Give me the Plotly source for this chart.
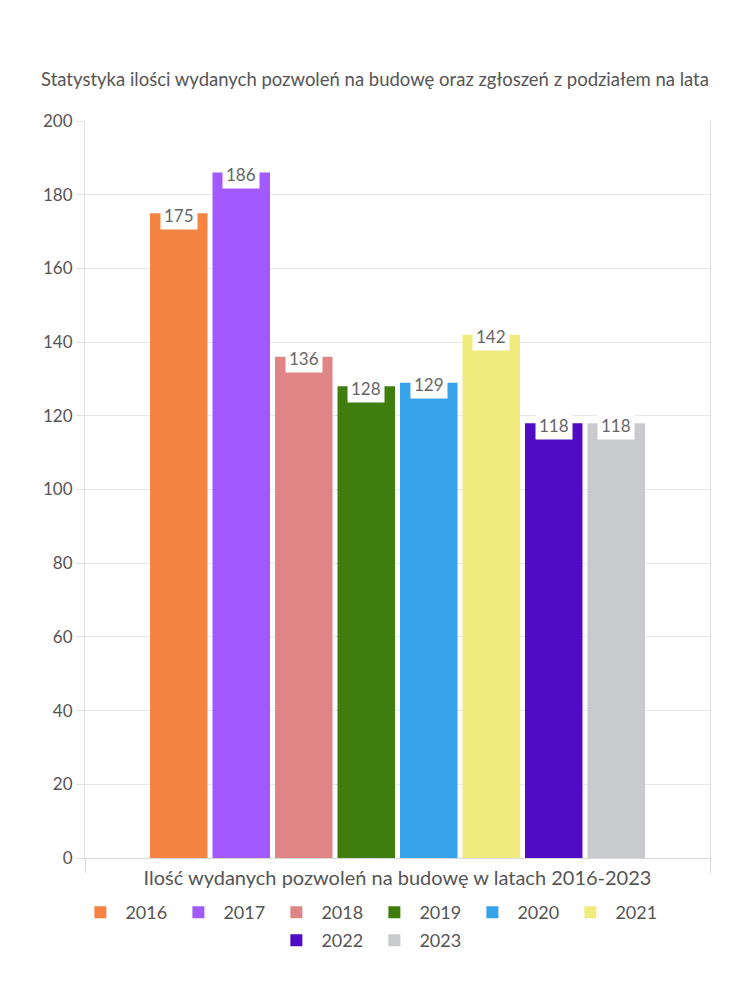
import plotly.graph_objects as go

years = ["2016", "2017", "2018", "2019", "2020", "2021", "2022", "2023"]
values = [175, 186, 136, 128, 129, 142, 118, 118]
colors = ["#F58442", "#A259FF", "#E08585", "#3F7D0E", "#38A3EB", "#F0EB7D", "#500BC4", "#C9CACE"]
legend_row = ["legend", "legend", "legend", "legend", "legend", "legend", "legend2", "legend2"]
category = ["Ilość wydanych pozwoleń na budowę w latach 2016-2023"]
yticks = [0, 20, 40, 60, 80, 100, 120, 140, 160, 180, 200]

FONT = "Lato, Open Sans, sans-serif"
GREY = "#555555"

fig = go.Figure()
for yr, v, c, lg in zip(years, values, colors, legend_row):
    fig.add_trace(go.Bar(name=yr, x=category, y=[v], marker=dict(color=c, line=dict(width=0)),
                         hoverinfo="name+y", legend=lg))

bargap = 0.2
n = len(years)
slot = (1 - bargap) / n
for i, v in enumerate(values):
    fig.add_annotation(x=-0.5 + bargap / 2 + slot * (i + 0.5), y=v, xref="x", yref="y",
                       text=str(v), showarrow=False, yanchor="middle", yshift=-2,
                       bgcolor="white", borderpad=3,
                       font=dict(family=FONT, size=17, color="#666666"))

legend_common = dict(orientation="h", x=0.455, xanchor="center", yanchor="top",
                     entrywidth=43, font=dict(family=FONT, size=18, color=GREY),
                     itemwidth=40, traceorder="normal", bgcolor="rgba(0,0,0,0)")

fig.update_layout(
    width=750, height=1000,
    barmode="group", bargap=bargap, bargroupgap=0.08,
    paper_bgcolor="white", plot_bgcolor="white",
    margin=dict(l=85, r=40, t=121, b=142),
    font=dict(family=FONT, size=17, color=GREY),
    title=dict(text="Statystyka ilości wydanych pozwoleń na budowę oraz zgłoszeń z podziałem na lata",
               x=0.5, xanchor="center", y=1 - 80 / 1000, yanchor="middle",
               font=dict(family=FONT, size=18.5, color=GREY)),
    xaxis=dict(showticklabels=False, showline=True, linecolor="#d9d9d9",
               ticks="outside", tickson="boundaries", ticklen=14, tickcolor="#d9d9d9",
               title=dict(text=category[0], standoff=12, font=dict(family=FONT, size=20, color=GREY))),
    yaxis=dict(range=[0, 200], tickvals=yticks, showgrid=True, gridcolor="#e6e6e6",
               showline=True, mirror=True, linecolor="#e0e0e0",
               ticks="outside", ticklen=8, tickcolor="#e0e0e0",
               tickfont=dict(family=FONT, size=17, color=GREY), zeroline=False),
    legend=dict(y=-0.049, **legend_common),
    legend2=dict(y=-0.087, **legend_common),
)

fig.write_html("out.html")
